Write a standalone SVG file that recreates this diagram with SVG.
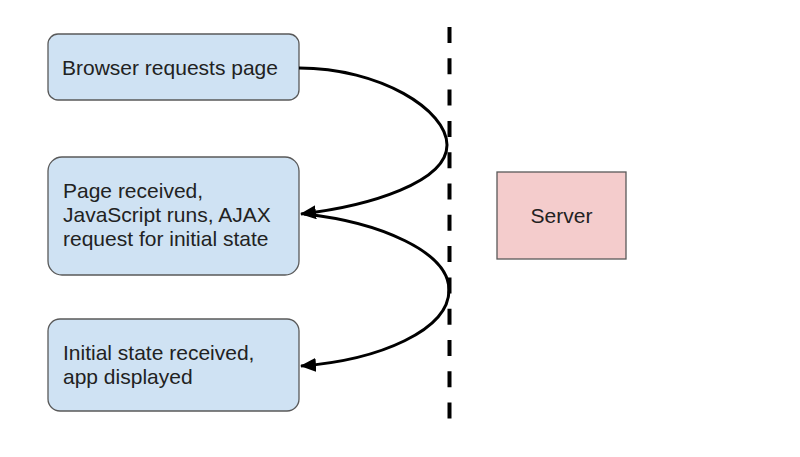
<svg xmlns="http://www.w3.org/2000/svg" width="800" height="457" viewBox="0 0 800 457">
<style>
.box{fill:#cfe2f3;stroke:#595959;stroke-width:1.3}
.srv{fill:#f4cccc;stroke:#595959;stroke-width:1.3}
text{font-family:"Liberation Sans",Arial,sans-serif;font-size:21px;fill:#222}
.conn{fill:none;stroke:#000;stroke-width:3}
</style>
<defs>
<marker id="ah" markerUnits="userSpaceOnUse" markerWidth="16" markerHeight="14" refX="15" refY="7" orient="auto">
<path d="M0,0 L16,7 L0,14 Z" fill="#000"/>
</marker>
</defs>
<rect width="800" height="457" fill="#fff"/>
<line x1="449.5" y1="27" x2="449.5" y2="420" stroke="#000" stroke-width="4" stroke-dasharray="16,15.3"/>
<g id="n1"><rect class="box" x="48" y="34" width="251" height="66" rx="10"/><text x="62" y="75">Browser requests page</text></g>
<g id="n2"><rect class="box" x="48" y="157" width="251" height="118" rx="14"/><text x="63" y="198">Page received,</text><text x="63" y="222">JavaScript runs, AJAX</text><text x="63" y="246">request for initial state</text></g>
<g id="n3"><rect class="box" x="48" y="319" width="251" height="92" rx="12"/><text x="63" y="360">Initial state received,</text><text x="63" y="384">app displayed</text></g>
<g id="server"><rect class="srv" x="497" y="172" width="129" height="87"/><text x="561.5" y="223" text-anchor="middle">Server</text></g>
<g id="connectors">
<path class="conn" d="M299,68 C380,68 447,110 447,145 C447,182 370,206 301,214" marker-end="url(#ah)"/>
<path class="conn" d="M304,214 C380,222 449,252 449,290 C449,330 380,360 301,366" marker-end="url(#ah)"/>
</g>
</svg>
